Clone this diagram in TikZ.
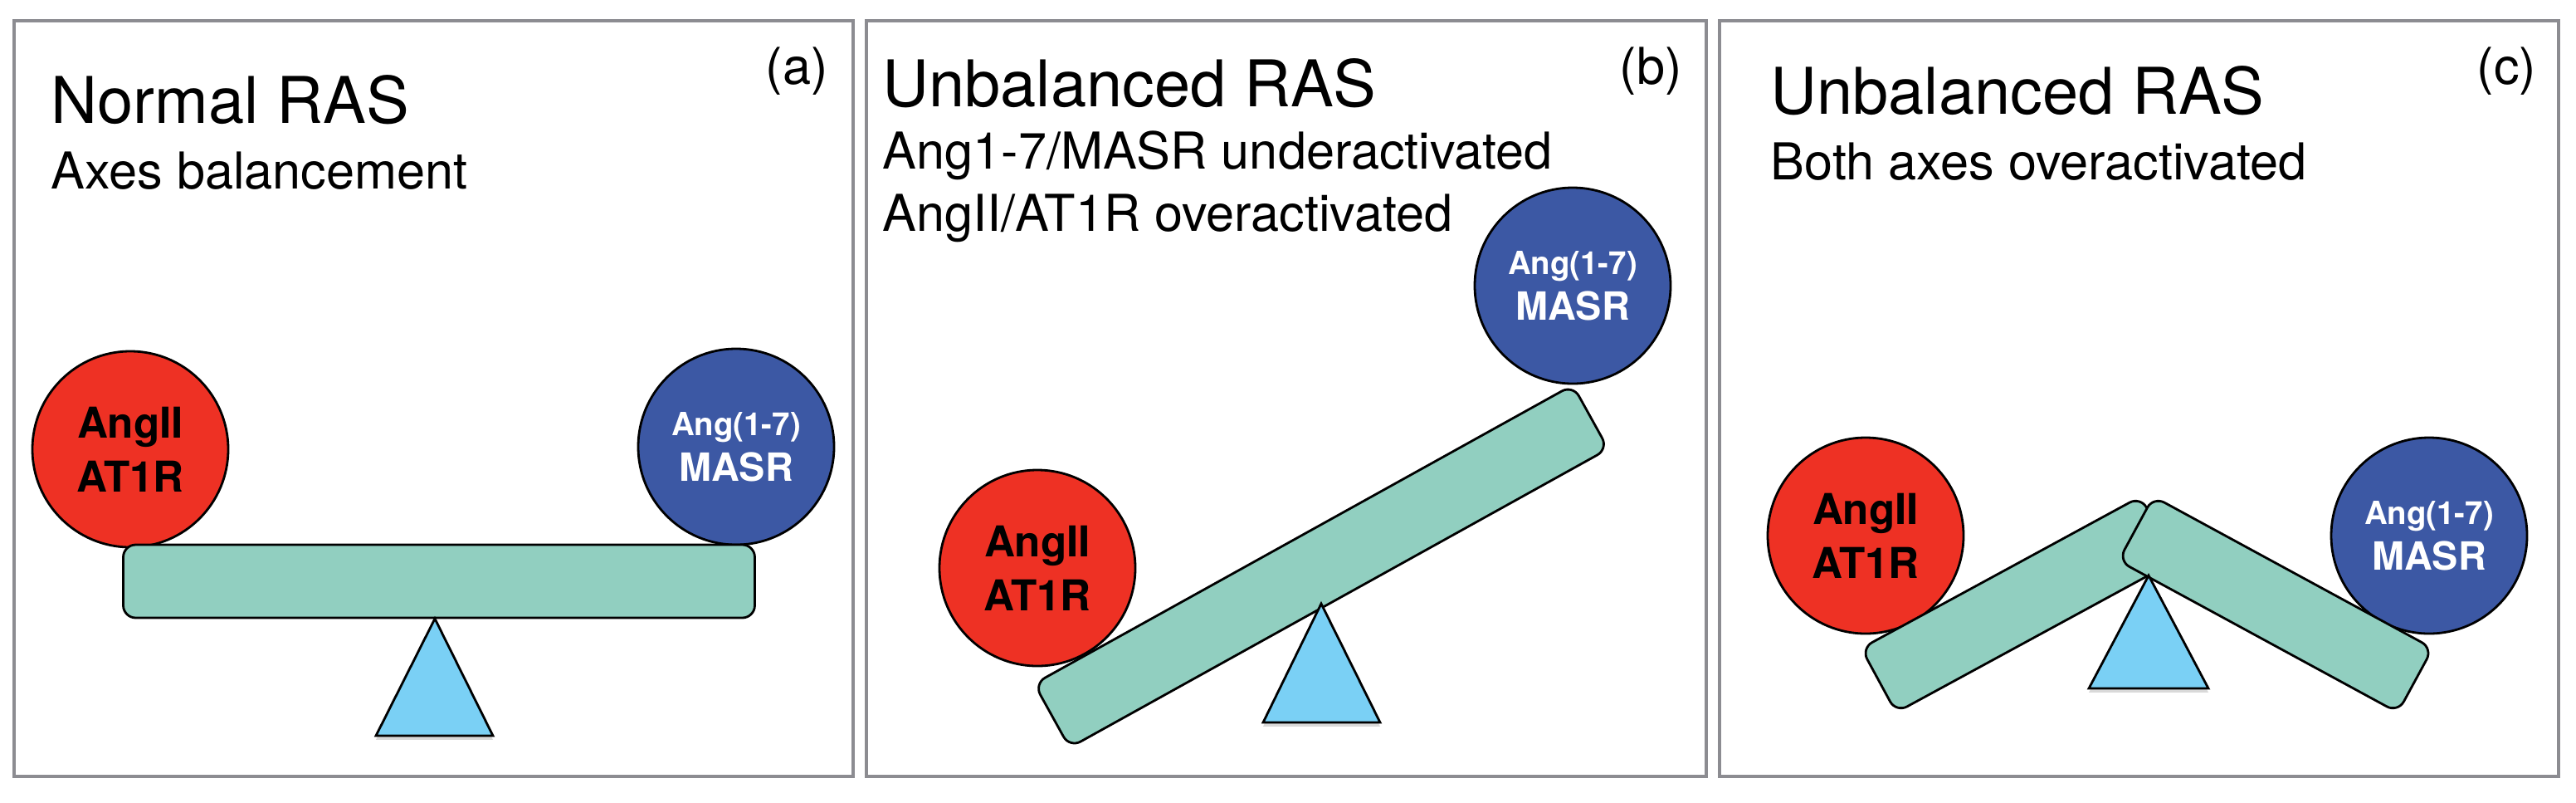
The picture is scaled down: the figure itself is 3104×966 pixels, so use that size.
\documentclass[tikz,border=0pt]{standalone}
\usepackage{fontspec}
\setmainfont{TeX Gyre Heros}
\usetikzlibrary{shadows}
\definecolor{framegray}{RGB}{140,140,145}
\definecolor{angred}{RGB}{238,49,36}
\definecolor{angblue}{RGB}{60,88,164}
\definecolor{beamgreen}{RGB}{145,207,192}
\definecolor{pivotblue}{RGB}{122,208,245}
\begin{document}
\begin{tikzpicture}[x=0.25pt,y=-0.25pt,
  panelframe/.style={draw=framegray, line width=1pt},
  paneltitle/.style={anchor=base west, inner sep=0pt, font=\fontsize{19.4}{23}\selectfont},
  panelsub/.style={anchor=base west, inner sep=0pt, font=\fontsize{15.3}{18.75}\selectfont},
  panellabel/.style={anchor=base west, inner sep=0pt, font=\fontsize{15.3}{18}\selectfont},
  redball/.style={circle, draw=black, line width=0.7pt, fill=angred, minimum size=59pt, inner sep=0pt,
    align=center, font=\bfseries\fontsize{12.8}{16.25}\selectfont},
  blueball/.style={circle, draw=black, line width=0.7pt, fill=angblue, minimum size=59pt, inner sep=0pt,
    align=center, text=white, font=\bfseries\fontsize{11.7}{13.75}\selectfont},
  beambox/.style={rectangle, rounded corners=3.75pt, draw=black, line width=0.7pt, fill=beamgreen,
    minimum height=22pt, inner sep=0pt},
  pivot/.style={draw=black, line width=0.7pt, fill=pivotblue, line join=miter,
    drop shadow={shadow xshift=0pt, shadow yshift=-1.2pt, opacity=0.3}}
]
\useasboundingbox (0,0) rectangle (3104,966);

% ---------- panel (a) ----------
\draw[panelframe] (17,25) rectangle (1028,935);
\node[paneltitle] (ta) at (61,148) {Normal RAS};
\node[panelsub] (sa) at (61,227) {Axes balancement};
\node[panellabel] (la) at (922,101) {(a)};
\node[redball] (ra) at (157,541) {AngII\\AT1R};
\node[blueball] (ba) at (887,538) {{\fontsize{9.6}{13.75}\selectfont Ang(1-7)}\\MASR};
\node[beambox, minimum width=190.25pt] (beama) at (529,700) {};
\coordinate (pa1) at (524,745);
\coordinate (pa2) at (594,886);
\coordinate (pa3) at (453,886);
\draw[pivot] (pa1) -- (pa2) -- (pa3) -- cycle;

% ---------- panel (b) ----------
\draw[panelframe] (1044,25) rectangle (2056,935);
\node[paneltitle] (tb) at (1063,128) {Unbalanced RAS};
\node[panelsub] (sb1) at (1063,203) {Ang1-7/MASR underactivated};
\node[panelsub] (sb2) at (1063,278) {AngII/AT1R overactivated};
\node[panellabel] (lb) at (1951,101) {(b)};
\node[redball] (rb) at (1250,684) {AngII\\AT1R};
\node[blueball] (bb) at (1895,344) {{\fontsize{9.6}{13.75}\selectfont Ang(1-7)}\\MASR};
\node[beambox, minimum width=185.5pt, rotate=29] (beamb) at (1592,682) {};
\coordinate (pb1) at (1592,727);
\coordinate (pb2) at (1663,870);
\coordinate (pb3) at (1522,870);
\draw[pivot] (pb1) -- (pb2) -- (pb3) -- cycle;

% ---------- panel (c) ----------
\draw[panelframe] (2072,25) rectangle (3083,935);
\node[paneltitle] (tc) at (2133,137) {Unbalanced RAS};
\node[panelsub] (sc) at (2133,216) {Both axes overactivated};
\node[panellabel] (lc) at (2984,101) {(c)};
\node[redball] (rc) at (2248,645) {AngII\\AT1R};
\node[blueball] (bc) at (2927,645) {{\fontsize{9.6}{13.75}\selectfont Ang(1-7)}\\MASR};
\node[beambox, minimum width=95.75pt, rotate=28.5] (beamcl) at (2432,728) {};
\node[beambox, minimum width=95.75pt, rotate=-28.5] (beamcr) at (2742,728) {};
\coordinate (pc1) at (2589,693);
\coordinate (pc2) at (2661,829);
\coordinate (pc3) at (2517,829);
\draw[pivot] (pc1) -- (pc2) -- (pc3) -- cycle;
\end{tikzpicture}
\end{document}
